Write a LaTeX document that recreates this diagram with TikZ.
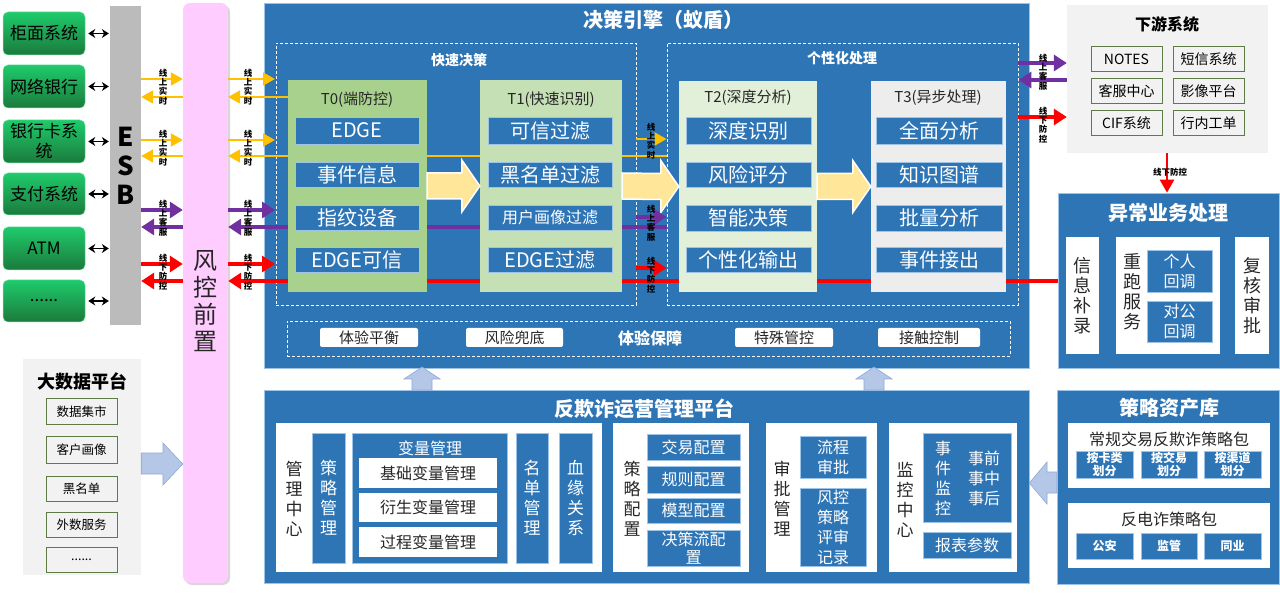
\documentclass[tikz,border=0pt]{standalone}
\usepackage{fontspec}
\setmainfont{Noto Sans CJK SC}
\usetikzlibrary{arrows.meta,shadows,calc}
\definecolor{eblue}{HTML}{2E75B6}
\definecolor{bline}{HTML}{9DC3E6}
\definecolor{lblue}{HTML}{B4C7E7}
\definecolor{lbline}{HTML}{8FA9D6}
\definecolor{pinkc}{HTML}{FFCCFF}
\definecolor{esbgray}{HTML}{BBBBBB}
\definecolor{gtop}{HTML}{1FCB6B}
\definecolor{gbot}{HTML}{1B7A3C}
\definecolor{tzero}{HTML}{A9D18E}
\definecolor{tone}{HTML}{C5E0B4}
\definecolor{ttwo}{HTML}{E2F0D9}
\definecolor{tthree}{HTML}{EDEDED}
\definecolor{yel}{HTML}{FFC000}
\definecolor{pur}{HTML}{7030A0}
\definecolor{rd}{HTML}{FF0000}
\definecolor{fatc}{HTML}{FFE699}
\definecolor{pgray}{HTML}{F2F2F2}
\definecolor{oliv}{HTML}{5E7A45}
\definecolor{dtxt}{HTML}{262626}
\newcommand\myfs[2]{\fontsize{#1}{#2}\selectfont}
\newcommand\mybox[7]{\node[#6, minimum width={(#4-#2)*1pt}, minimum height={(#5-#3)*1pt}] (#1) at ({(#2+#4)/2},{(#3+#5)/2}) {#7};}
\tikzset{
 bx/.style={inner sep=0pt, align=center},
 gsys/.style={bx, rounded corners=5pt, top color=gtop, bottom color=gbot, draw=gtop!60!white, line width=0.5pt, font=\myfs{17}{20}, text=black},
 esbst/.style={bx, fill=esbgray, font=\myfs{26}{29}\bfseries, text=black},
 fkst/.style={bx, fill=pinkc, rounded corners=7pt, drop shadow={opacity=0.3, shadow xshift=2pt, shadow yshift=-2pt}},
 engst/.style={bx, fill=eblue, draw=bline, line width=0.6pt},
 dashbox/.style={bx, draw=white, dash pattern=on 3pt off 2pt, line width=0.9pt},
 tsub/.style={bx, fill=eblue, draw=bline, line width=0.6pt, text=white, font=\myfs{20}{22}},
 ttl/.style={font=\myfs{15}{17}, text=dtxt, inner sep=0pt},
 wttl/.style={font=\myfs{20}{22}\bfseries, text=white, inner sep=0pt},
 wsmall/.style={font=\myfs{14}{16}\bfseries, text=white, inner sep=0pt},
 wpanel/.style={bx, fill=white},
 lgray/.style={bx, fill=pgray},
 obox/.style={bx, draw=oliv, line width=1pt, font=\myfs{14}{16}, text=black},
 dbox/.style={bx, draw=oliv, line width=1pt, font=\myfs{12.5}{14}, text=black},
 ebox/.style={bx, fill=white, rounded corners=2pt, font=\myfs{15}{17}, text=dtxt},
 bcol/.style={bx, fill=eblue, draw=bline, line width=0.6pt, text=white, font=\myfs{17}{20}},
 bsub/.style={bx, fill=eblue, draw=bline, line width=0.6pt, text=white, font=\myfs{16}{20}},
 wsub/.style={bx, fill=white, font=\myfs{16}{18}, text=dtxt},
 dvert/.style={font=\myfs{17}{20}, text=dtxt, align=center, inner sep=0pt},
 libsub/.style={bx, fill=eblue, draw=bline, line width=0.6pt, text=white, font=\myfs{12}{13.5}\bfseries},
 vlab/.style={font=\myfs{8.5}{9.3}\bfseries, align=center, inner sep=0pt, text=black},
 yarr/.style={draw=yel, line width=2pt, -{Triangle[width=13pt,length=12pt]}},
 parr/.style={draw=pur, line width=3.5pt, -{Triangle[width=16pt,length=13pt]}},
 rarr/.style={draw=rd, line width=3.5pt, -{Triangle[width=16pt,length=13pt]}},
 dbl/.style={draw=black, line width=1.6pt, {Stealth[length=7pt,width=9pt]}-{Stealth[length=7pt,width=9pt]}},
 fat/.style={fill=fatc, draw=white, line width=1.5pt},
 lbarr/.style={fill=lblue, draw=lbline, line width=0.6pt},
}
\newcommand\fatarr[2]{\draw[fat] ($(#1.east)+(0,-13)$) -- ($(#2.west)+(-18,-13)$) -- ($(#2.west)+(-18,-26)$) -- (#2.west) -- ($(#2.west)+(-18,26)$) -- ($(#2.west)+(-18,13)$) -- ($(#1.east)+(0,13)$) -- cycle;}
\begin{document}
\begin{tikzpicture}[x=1pt,y=-1pt]
\useasboundingbox (0,0) rectangle (1280,593);
\fill[white] (0,0) rectangle (1280,593);
% containers
\mybox{eng}{264}{3}{1029}{368}{engst}{}
\node[wttl] (engt) at (663,20) {决策引擎（蚁盾）};
\mybox{ops}{264}{390}{1029}{583}{engst}{}
\node[wttl] (opst) at (644,409) {反欺诈运营管理平台};
\mybox{lib}{1057}{390}{1279}{584}{engst}{}
\node[wttl] (libt) at (1169,408) {策略资产库};
\mybox{exc}{1058}{193}{1279}{368}{engst}{}
\node[wttl] (exct) at (1168,213) {异常业务处理};
\mybox{down}{1067}{5}{1268}{153}{lgray}{}
\node[font=\myfs{16}{18}\bfseries, inner sep=0pt] (downt) at (1167,24) {下游系统};
\mybox{bd}{23}{359}{141}{575}{lgray}{}
\node[font=\myfs{18}{20}\bfseries, inner sep=0pt] (bdt) at (82,381) {大数据平台};
% dashed groups
\mybox{fast}{276}{43}{636}{305}{dashbox}{}
\node[wsmall] (fastt) at (459,60) {快速决策};
\mybox{pers}{667}{43}{1018}{305}{dashbox}{}
\node[wsmall] (perst) at (842,58) {个性化处理};
\mybox{expg}{287}{321}{1010}{356}{dashbox}{}
\node[font=\myfs{16}{18}\bfseries, text=white, inner sep=0pt] (expt) at (650,338) {体验保障};
\mybox{e1}{320}{328}{418}{347}{ebox}{体验平衡}
\mybox{e2}{466}{328}{563}{347}{ebox}{风险兜底}
\mybox{e3}{735}{328}{833}{347}{ebox}{特殊管控}
\mybox{e4}{878}{328}{980}{347}{ebox}{接触控制}
% left systems
\mybox{s1}{3}{12}{85}{55}{gsys}{柜面系统}
\mybox{s2}{3}{65}{85}{108}{gsys}{网络银行}
\mybox{s3}{3}{120}{85}{163}{gsys}{银行卡系\\统}
\mybox{s4}{3}{173}{85}{215}{gsys}{支付系统}
\mybox{s5}{3}{227}{85}{270}{gsys}{ATM}
\mybox{s6}{3}{280}{85}{322}{gsys}{......}
\mybox{esb}{110}{6}{141}{325}{esbst}{E\\S\\B}
\foreach \s in {s1,s2,s3,s4,s5,s6}{\draw[dbl] ([xshift=3pt]\s.east) -- ([xshift=-1pt]\s.east -| esb.west);}
\mybox{fk}{183}{3}{228}{583}{fkst}{}
\node[font=\myfs{24}{27}, text=dtxt, align=center, inner sep=0pt] (fktxt) at (205,301) {风\\控\\前\\置};
% channel coordinates
\coordinate (yA) at (0,79); \coordinate (yAl) at (0,97);
\coordinate (yB) at (0,140); \coordinate (yBl) at (0,156);
\coordinate (pA) at (0,210); \coordinate (pAl) at (0,227);
\coordinate (rA) at (0,264); \coordinate (rAl) at (0,281);
\coordinate (ein) at (275,0);
% long return lines (behind T boxes)
\draw[yarr] (pers.west|-yBl) -- (fk.east|-yBl);
\draw[parr] (pers.west|-pAl) -- (fk.east|-pAl);
\draw[rarr] (exc.west|-rAl) -- (fk.east|-rAl);
% T boxes
\mybox{t0}{288}{80}{427}{292}{bx,fill=tzero}{}
\node[ttl] (t0t) at (357,100) {T0(端防控)};
\mybox{t0a}{295}{117}{419}{144}{tsub}{EDGE}
\mybox{t0b}{295}{162}{419}{187}{tsub}{事件信息}
\mybox{t0c}{295}{205}{419}{230}{tsub}{指纹设备}
\mybox{t0d}{295}{247}{419}{272}{tsub}{EDGE可信}
\mybox{t1}{480}{80}{622}{292}{bx,fill=tone}{}
\node[ttl] (t1t) at (551,100) {T1(快速识别)};
\mybox{t1a}{488}{117}{612}{144}{tsub}{可信过滤}
\mybox{t1b}{488}{162}{612}{187}{tsub}{黑名单过滤}
\mybox{t1c}{488}{205}{612}{230}{tsub,font=\myfs{16}{18}}{用户画像过滤}
\mybox{t1d}{488}{247}{612}{272}{tsub}{EDGE过滤}
\mybox{t2}{679}{81}{817}{292}{bx,fill=ttwo}{}
\node[ttl] (t2t) at (748,98) {T2(深度分析)};
\mybox{t2a}{686}{117}{811}{144}{tsub}{深度识别}
\mybox{t2b}{686}{162}{811}{187}{tsub}{风险评分}
\mybox{t2c}{686}{205}{811}{231}{tsub}{智能决策}
\mybox{t2d}{686}{247}{811}{272}{tsub}{个性化输出}
\mybox{t3}{871}{81}{1006}{292}{bx,fill=tthree}{}
\node[ttl] (t3t) at (938,98) {T3(异步处理)};
\mybox{t3a}{876}{117}{1002}{144}{tsub}{全面分析}
\mybox{t3b}{876}{162}{1002}{187}{tsub}{知识图谱}
\mybox{t3c}{876}{205}{1002}{231}{tsub}{批量分析}
\mybox{t3d}{876}{247}{1002}{272}{tsub}{事件接出}
\fatarr{t0}{t1}
\fatarr{t1}{t2}
\fatarr{t2}{t3}
% arrows ESB <-> 风控前置
\draw[yarr] (esb.east|-yA) -- (fk.west|-yA);
\draw[yarr] (fk.west|-yAl) -- (esb.east|-yAl);
\draw[yarr] (esb.east|-yB) -- (fk.west|-yB);
\draw[yarr] (fk.west|-yBl) -- (esb.east|-yBl);
\draw[parr] (esb.east|-pA) -- (fk.west|-pA);
\draw[parr] (fk.west|-pAl) -- (esb.east|-pAl);
\draw[rarr] (esb.east|-rA) -- (fk.west|-rA);
\draw[rarr] (fk.west|-rAl) -- (esb.east|-rAl);
% arrows 风控前置 -> engine
\draw[yarr] (fk.east|-yA) -- (ein|-yA);
\draw[yarr] (t0.west|-yAl) -- (fk.east|-yAl);
\draw[yarr] (fk.east|-yB) -- (ein|-yB);
\draw[parr] (fk.east|-pA) -- (ein|-pA);
\draw[rarr] (fk.east|-rA) -- (ein|-rA);
% labels
\foreach \x in {163,248}{
 \node[vlab] at (\x,87) {线\\上\\实\\时};
 \node[vlab] at (\x,148) {线\\上\\实\\时};
 \node[vlab] at (\x,218) {线\\上\\客\\服};
 \node[vlab] at (\x,272) {线\\下\\防\\控};
}
% middle arrows
\coordinate (m1) at (0,139); \coordinate (m2) at (0,217); \coordinate (m3) at (0,268);
\draw[yarr] (fast.east|-m1) -- (pers.west|-m1);
\draw[parr] (fast.east|-m2) -- (pers.west|-m2);
\draw[rarr] (fast.east|-m3) -- (pers.west|-m3);
\node[vlab] (ml1) at (651,141) {线\\上\\实\\时};
\node[vlab] (ml2) at (651,223) {线\\上\\客\\服};
\node[vlab] (ml3) at (651,275) {线\\下\\防\\控};
% right arrows to downstream
\coordinate (q1) at (0,63); \coordinate (q2) at (0,80); \coordinate (q3) at (0,117);
\draw[parr] (pers.east|-q1) -- (down.west|-q1);
\draw[parr] (down.west|-q2) -- (pers.east|-q2);
\draw[rarr] (pers.east|-q3) -- (down.west|-q3);
\node[vlab] (rl1) at (1043,72) {线\\上\\客\\服};
\node[vlab] (rl2) at (1043,125) {线\\下\\防\\控};
% downstream boxes
\mybox{d1}{1091}{47}{1162}{72}{obox}{NOTES}
\mybox{d2}{1173}{47}{1244}{72}{obox}{短信系统}
\mybox{d3}{1091}{79}{1162}{104}{obox}{客服中心}
\mybox{d4}{1173}{79}{1244}{104}{obox}{影像平台}
\mybox{d5}{1091}{111}{1162}{136}{obox}{CIF系统}
\mybox{d6}{1173}{111}{1244}{136}{obox}{行内工单}
\draw[draw=rd, line width=2.5pt, -{Triangle[width=14pt,length=13pt]}] (down.south -| 1167,0) -- (exc.north -| 1167,0);
\node[vlab] (dl) at (1170,172) {线下防控};
% exception box content
\mybox{x1}{1066}{237}{1099}{354}{wpanel,font=\myfs{18}{20},text=dtxt}{信\\息\\补\\录}
\mybox{x2}{1116}{237}{1220}{354}{wpanel}{}
\node[font=\myfs{18}{20}, text=dtxt, align=center, inner sep=0pt] (x2t) at (1132,292) {重\\跑\\服\\务};
\mybox{x2a}{1147}{250}{1212}{292}{bsub}{个人\\回调}
\mybox{x2b}{1147}{301}{1212}{342}{bsub}{对公\\回调}
\mybox{x3}{1235}{237}{1269}{354}{wpanel,font=\myfs{18}{20},text=dtxt}{复\\核\\审\\批}
% big data
\mybox{b1}{46}{399}{117}{425}{dbox}{数据集市}
\mybox{b2}{46}{437}{117}{463}{dbox}{客户画像}
\mybox{b3}{46}{476}{117}{501}{dbox}{黑名单}
\mybox{b4}{46}{512}{117}{537}{dbox}{外数服务}
\mybox{b5}{46}{547}{117}{572}{dbox}{......}
\draw[lbarr] (bd.east|-0,453) -- (163,453) -- (163,443) -- (fk.west|-0,464) -- (163,485) -- (163,474) -- (bd.east|-0,474) -- cycle;
% up arrows
\foreach \c in {422,874}{
 \draw[lbarr] (\c-10,390) -- (\c-10,379) -- (\c-18,379) -- (\c,367) -- (\c+18,379) -- (\c+10,379) -- (\c+10,390) -- cycle;
}
% left arrow lib -> ops
\draw[lbarr] (lib.west|-0,472) -- (1047,472) -- (1047,462) -- (ops.east|-0,483) -- (1047,504) -- (1047,493) -- (lib.west|-0,493) -- cycle;
% ops panels
\mybox{p1}{276}{423}{602}{572}{wpanel}{}
\node[dvert] (p1t) at (294,499) {管\\理\\中\\心};
\mybox{clgl}{312}{433}{345}{563}{bcol}{策\\略\\管\\理}
\mybox{blgl}{352}{433}{507}{563}{bcol}{}
\node[font=\myfs{16}{18}, text=white, inner sep=0pt] (blglt) at (430,448) {变量管理};
\mybox{v1}{359}{458}{497}{488}{wsub}{基础变量管理}
\mybox{v2}{359}{493}{497}{522}{wsub}{衍生变量管理}
\mybox{v3}{359}{527}{497}{557}{wsub}{过程变量管理}
\mybox{mdgl}{516}{433}{548}{563}{bcol}{名\\单\\管\\理}
\mybox{xygx}{559}{433}{592}{563}{bcol}{血\\缘\\关\\系}
\mybox{p2}{613}{423}{749}{572}{wpanel}{}
\node[dvert] (p2t) at (632,499) {策\\略\\配\\置};
\mybox{c1}{647}{434}{740}{460}{bsub}{交易配置}
\mybox{c2}{647}{466}{740}{493}{bsub}{规则配置}
\mybox{c3}{647}{498}{740}{523}{bsub}{模型配置}
\mybox{c4}{647}{530}{740}{566}{bsub,font=\myfs{16}{18}}{决策流配\\置}
\mybox{p3}{766}{423}{877}{572}{wpanel}{}
\node[dvert] (p3t) at (782,499) {审\\批\\管\\理};
\mybox{a1}{800}{436}{866}{478}{bsub}{流程\\审批}
\mybox{a2}{800}{488}{866}{566}{bsub}{风控\\策略\\评审\\记录}
\mybox{p4}{889}{423}{1017}{572}{wpanel}{}
\node[dvert] (p4t) at (905,500) {监\\控\\中\\心};
\mybox{m1b}{923}{433}{1011}{522}{bsub}{}
\node[font=\myfs{16}{20}, text=white, align=center, inner sep=0pt] (evt) at (943,478) {事\\件\\监\\控};
\node[font=\myfs{16}{20}, text=white, align=center, inner sep=0pt] (evs) at (984,478) {事前\\事中\\事后};
\mybox{m2b}{923}{532}{1011}{558}{bsub}{报表参数}
% strategy library
\mybox{lp1}{1068}{423}{1270}{488}{wpanel}{}
\node[font=\myfs{16}{18}, text=dtxt, inner sep=0pt] (lp1t) at (1169,439) {常规交易反欺诈策略包};
\mybox{k1}{1076}{451}{1133}{478}{libsub}{按卡类\\划分}
\mybox{k2}{1141}{451}{1197}{478}{libsub}{按交易\\划分}
\mybox{k3}{1204}{451}{1261}{478}{libsub}{按渠道\\划分}
\mybox{lp2}{1068}{503}{1270}{568}{wpanel}{}
\node[font=\myfs{16}{18}, text=dtxt, inner sep=0pt] (lp2t) at (1169,519) {反电诈策略包};
\mybox{g1}{1076}{533}{1133}{559}{libsub}{公安}
\mybox{g2}{1141}{533}{1197}{559}{libsub}{监管}
\mybox{g3}{1204}{533}{1261}{559}{libsub}{同业}
\end{tikzpicture}
\end{document}
